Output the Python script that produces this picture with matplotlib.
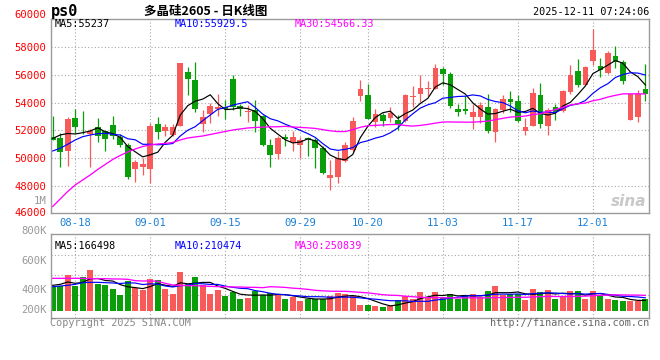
import numpy as np
import pandas as pd
import matplotlib
matplotlib.use("Agg")
import matplotlib.pyplot as plt

# ---------------- data ----------------
opens = [51531, 51436, 50553, 52868, 52343, 51746, 52224, 51985, 52391, 51508,
         50959, 49264, 49407, 49264, 52462, 51985, 51675, 52343, 56186, 55613,
         52439, 53178, 53537, 53656, 55709, 53751, 53322, 53441, 53035, 50959,
         50338, 51532, 51150, 50983, 51436, 51293, 50768, 48619, 48643, 49836,
         50624, 54491, 54539, 52606, 53107, 52916, 52749, 52701, 54396, 54611,
         54945, 54993, 56401, 56019, 53537, 53513, 52988, 52988, 53680, 51914,
         53489, 54253, 54110, 51985, 52343, 54539, 52343, 53680, 53417, 54778,
         56258, 55255, 56974, 56616, 56138, 57332, 56926, 52749, 52988, 54969]
highs = [53059, 51794, 52964, 53537, 53394, 52105, 52868, 52057, 53035, 51722,
         51126, 49885, 50004, 52510, 52988, 52439, 52439, 56831, 56568, 56902,
         53465, 53990, 54587, 54181, 55971, 53871, 53823, 54157, 53107, 51364,
         51627, 51746, 51985, 51556, 51508, 51436, 50911, 49885, 50529, 51198,
         52988, 55613, 55327, 53513, 53274, 53656, 53107, 54611, 55184, 55995,
         55566, 56759, 56521, 56162, 53895, 54444, 53895, 54014, 54611, 53585,
         54539, 54826, 54539, 52868, 55064, 55375, 53585, 53871, 54921, 56688,
         57117, 56616, 59265, 57165, 57690, 58048, 57045, 54635, 54874, 56759]
lows = [51300, 49359, 49478, 51794, 51722, 49407, 51198, 50529, 51364, 50839,
        48524, 48310, 48834, 48262, 51389, 51627, 51627, 52296, 54539, 53346,
        51866, 52510, 53035, 52797, 53465, 53059, 52630, 51914, 50887, 49407,
        49932, 50887, 50529, 50004, 50195, 49336, 48882, 47760, 48262, 49765,
        50481, 54110, 52797, 52271, 52319, 52630, 52033, 52630, 53704, 54014,
        54468, 54969, 55255, 53632, 53059, 53202, 52128, 52510, 51842, 51198,
        53226, 53346, 52606, 51675, 52319, 52200, 51675, 52749, 53346, 54587,
        55112, 55231, 56688, 55852, 56067, 56496, 55351, 52749, 52606, 54110]
closes = [51339, 50481, 52821, 52271, 52296, 51961, 51603, 51412, 51580, 50983,
          48667, 49718, 49598, 52319, 51914, 52224, 52224, 56831, 55685, 53537,
          52964, 53775, 53656, 53561, 53680, 53513, 53394, 52677, 50959, 50243,
          51436, 51364, 51532, 51293, 51364, 50768, 48954, 48810, 50004, 50959,
          52677, 54969, 52844, 53178, 52701, 53226, 52391, 54539, 54468, 55041,
          55041, 56473, 56043, 53775, 53346, 53417, 53322, 53823, 51961, 53537,
          54253, 54062, 52701, 52248, 54659, 52462, 53465, 53346, 54826, 55971,
          55255, 56521, 57762, 56330, 57547, 56902, 55566, 54635, 54635, 54587]
volumes = [380900, 402600, 581900, 402600, 543900, 663400, 435200, 418900, 353700, 255900,
           484100, 370000, 337400, 516700, 500400, 353700, 272200, 630800, 435200, 549300,
           418900, 272200, 337400, 239600, 304800, 190700, 207000, 321100, 255900, 288500,
           255900, 190700, 223300, 158100, 190700, 190700, 190700, 239600, 293900, 272200,
           239600, 92900, 92900, 76600, 54900, 76600, 174400, 239600, 190700, 304800,
           217900, 304800, 217900, 272200, 190700, 255900, 272200, 217900, 321100, 402600,
           255900, 272200, 272200, 174400, 353700, 304800, 337400, 190700, 239600, 321100,
           321100, 190700, 321100, 239600, 190700, 174400, 158100, 158100, 158100, 190700]

# moving-average values before enough visible history exists
ma5_head = [51427, 51678, 51785, 51749]
ma10_head = [50532, 50726, 51012, 51320, 51556, 51678, 51771, 51800, 51728]
ma30_head = [46558, 47095, 47632, 48098, 48456, 48814, 49208, 49566, 49924, 50210,
             50461, 50675, 50854, 50962, 51033, 51069, 51141, 51320, 51463, 51535,
             51606, 51714, 51821, 51928, 52036, 52107, 52179, 52215, 52236]
vma5_head = [413500, 429800, 468000, 446100]
vma10_head = [391800, 402600, 413500, 429800, 457000, 462400, 462400, 457000, 451500]
vma30_head = [527600, 527600, 527600, 527600, 527600, 522200, 522200, 522200, 516700, 516700,
              511300, 489600, 484100, 484100, 478700, 446100, 418900, 413500, 408000, 408000,
              402600, 397200, 391800, 391800, 386300, 386300, 380900, 380900, 375500]

tick_idx = [3, 13, 23, 33, 42, 52, 62, 72]
tick_labels = ["08-18", "09-01", "09-15", "09-29", "10-20", "11-03", "11-17", "12-01"]
price_labels = ["60000", "58000", "56000", "54000", "52000", "50000", "48000", "46000"]
vol_labels = ["800K", "600K", "400K", "200K"]

title_text = "多晶硅2605 - 日K线图"
symbol_text = "ps0"
time_text = "2025-12-11 07:24:06"
ma_texts = ["MA5:55237", "MA10:55929.5", "MA30:54566.33"]
vma_texts = ["MA5:166498", "MA10:210474", "MA30:250839"]

# ---------------- helpers ----------------
def ma(vals, n, head):
    out = pd.Series(vals, dtype=float).rolling(n).mean().to_numpy()
    out[:n - 1] = head
    return out

O = np.array(opens, float); Hh = np.array(highs, float)
L = np.array(lows, float); C = np.array(closes, float)
V = np.array(volumes, float)
x = np.arange(len(C))

RED = "#f85a5a"
GREEN = "#0a9e0a"
GRID = "#a8a8a8"
BORDER = "#9a9a9a"
MONO = "DejaVu Sans Mono"

W, Hpx = 660, 360
def rect(l, t, r, b):
    return [l / W, 1 - b / Hpx, (r - l) / W, (b - t) / Hpx]
def fx(px): return px / W
def fy(py): return 1 - py / Hpx

fig = plt.figure(figsize=(6.6, 3.6), dpi=100)
fig.patch.set_facecolor("white")

ax = fig.add_axes(rect(50.7, 19, 649.3, 212.7))
axv = fig.add_axes(rect(50.7, 234.3, 649.3, 317.7))

up = C >= O
cols = np.where(up, RED, GREEN)

# ---------------- price panel ----------------
ax.set_xlim(-0.27, 79.53)
ax.set_ylim(46110, 59985)
for gy in [48000, 50000, 52000, 54000, 56000, 58000]:
    ax.axhline(gy, color=GRID, lw=0.8, ls=(0, (1, 2)), zorder=0)
for gx in tick_idx:
    ax.axvline(gx, color=GRID, lw=0.8, ls=(0, (1, 2)), zorder=0)

ax.vlines(x, L, Hh, colors=cols, lw=0.9, zorder=2)
body_h = np.maximum(np.abs(C - O), 45)
ax.bar(x, body_h, bottom=np.minimum(O, C), width=0.74, color=cols, lw=0, zorder=3)

ax.plot(x, ma(C, 5, ma5_head), color="black", lw=0.85, zorder=4)
ax.plot(x, ma(C, 10, ma10_head), color="#0000ff", lw=0.85, zorder=4)
ax.plot(x, ma(C, 30, ma30_head), color="#ff00ff", lw=0.95, zorder=4)

ax.set_yticks([58000, 56000, 54000, 52000, 50000, 48000])
ax.set_yticklabels(price_labels[1:7])
ax.tick_params(axis="y", length=0, pad=3.3, labelcolor="#ff0000", labelsize=7.6)
for lbl in ax.get_yticklabels():
    lbl.set_fontfamily(MONO)
ax.set_xticks(tick_idx)
ax.set_xticklabels(tick_labels)
ax.tick_params(axis="x", length=0, pad=4.0, labelcolor="#1a80d8", labelsize=7.6)
for lbl in ax.get_xticklabels():
    lbl.set_fontfamily(MONO)
for s in ax.spines.values():
    s.set_color(BORDER); s.set_linewidth(1.0)

fig.text(fx(46.5), fy(15), price_labels[0], color="#ff0000", fontsize=7.6,
         family=MONO, ha="right", va="center")
fig.text(fx(46.5), fy(212.5), price_labels[7], color="#ff0000", fontsize=7.6,
         family=MONO, ha="right", va="center")
fig.text(fx(46.5), fy(200.7), "1M", color="#999999", fontsize=7.6,
         family=MONO, ha="right", va="center")

ax.text(0.006, 0.972, ma_texts[0], transform=ax.transAxes, color="black",
        fontsize=7.3, family=MONO, ha="left", va="center")
ax.text((175 - 50.7) / 598.6, 0.972, ma_texts[1], transform=ax.transAxes,
        color="#0000ff", fontsize=7.3, family=MONO, ha="left", va="center")
ax.text((295 - 50.7) / 598.6, 0.972, ma_texts[2], transform=ax.transAxes,
        color="#ff00ff", fontsize=7.3, family=MONO, ha="left", va="center")

ax.text(0.965, 0.06, "sina", transform=ax.transAxes, color="#c8c8c8",
        fontsize=11, fontweight="bold", fontstyle="italic", ha="center",
        va="center", family="DejaVu Sans", zorder=1)

# ---------------- volume panel ----------------
axv.set_xlim(-0.27, 79.53)
axv.set_ylim(-114100, 1245300)
for f in [0.752, 0.512, 0.272]:
    axv.plot([0, 1], [f, f], transform=axv.transAxes, color=GRID, lw=0.8,
             ls=(0, (1, 2)), zorder=0)
for gx in tick_idx:
    axv.axvline(gx, color=GRID, lw=0.8, ls=(0, (1, 2)), zorder=0)
axv.bar(x, V, width=0.8, color=cols, lw=0, zorder=2)
axv.plot(x, ma(V, 5, vma5_head), color="black", lw=0.85, zorder=3)
axv.plot(x, ma(V, 10, vma10_head), color="#0000ff", lw=0.85, zorder=3)
axv.plot(x, ma(V, 30, vma30_head), color="#ff00ff", lw=0.95, zorder=3)
axv.set_xticks([]); axv.set_yticks([])
for s in axv.spines.values():
    s.set_color(BORDER); s.set_linewidth(1.0)

for lab, py in zip(vol_labels, [230.7, 261, 290.3, 310.3]):
    fig.text(fx(46.5), fy(py), lab, color="#999999", fontsize=7.6,
             family=MONO, ha="right", va="center")

axv.text(0.006, 0.86, vma_texts[0], transform=axv.transAxes, color="black",
         fontsize=7.3, family=MONO, ha="left", va="center")
axv.text((175 - 50.7) / 598.6, 0.86, vma_texts[1], transform=axv.transAxes,
         color="#0000ff", fontsize=7.3, family=MONO, ha="left", va="center")
axv.text((295 - 50.7) / 598.6, 0.86, vma_texts[2], transform=axv.transAxes,
         color="#ff00ff", fontsize=7.3, family=MONO, ha="left", va="center")

# ---------------- header / footer ----------------
fig.text(fx(50.5), fy(11.5), symbol_text, color="black", fontsize=11,
         fontweight="bold", family=MONO, ha="left", va="center")
fig.text(fx(206), fy(11.5), title_text, color="black", fontsize=9,
         fontweight="bold", family=["Noto Sans CJK SC", "DejaVu Sans"],
         ha="center", va="center")
fig.text(fx(649.5), fy(12), time_text, color="black", fontsize=7.3,
         family=MONO, ha="right", va="center")
fig.text(fx(49.5), fy(323.5), "Copyright 2025 SINA.COM", color="#888888",
         fontsize=7.3, family=MONO, ha="left", va="center")
fig.text(fx(649.5), fy(323.5), "http://finance.sina.com.cn", color="#666666",
         fontsize=7.3, family=MONO, ha="right", va="center")

fig.savefig("out.png", dpi=100, facecolor="white")
